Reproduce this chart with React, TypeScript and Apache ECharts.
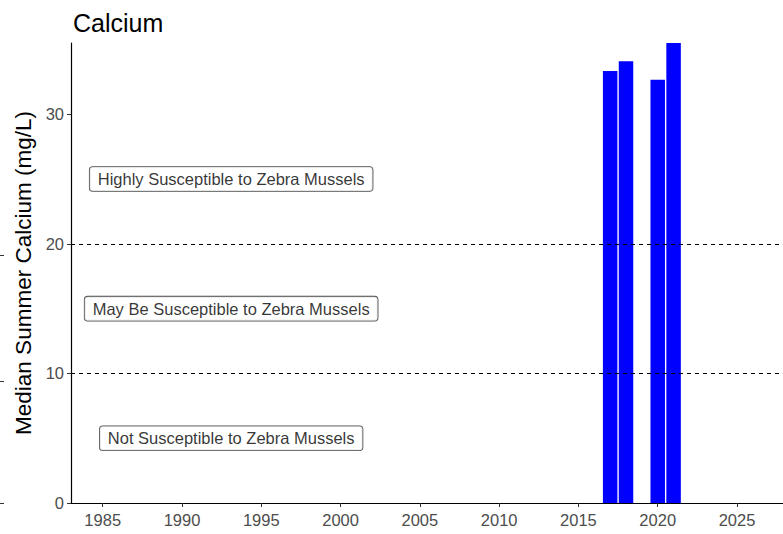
import React, { useEffect, useRef } from "react";
import * as echarts from "echarts";

const years = [2017, 2018, 2020, 2021];
const calcium = [33.34, 34.1, 32.66, 35.5];
const thresholds = [10, 20];
const xTicks = [1985, 1990, 1995, 2000, 2005, 2010, 2015, 2020, 2025];
const zoneLabels = [
  "Not Susceptible to Zebra Mussels",
  "May Be Susceptible to Zebra Mussels",
  "Highly Susceptible to Zebra Mussels",
];
const zoneY = [5, 15, 25];
const zoneX = 1993.1;

export default function App() {
  const ref = useRef<HTMLDivElement>(null);
  useEffect(() => {
    const chart = echarts.init(ref.current!, null, { renderer: "svg" });
    const font = "Liberation Sans, Arial, sans-serif";
    chart.setOption({
      animation: false,
      backgroundColor: "#ffffff",
      title: {
        text: "Calcium",
        left: 68,
        top: 5,
        textStyle: { fontFamily: font, fontSize: 25, fontWeight: "normal", color: "#000" },
      },
      grid: { left: 71, right: 0, top: 43, bottom: 31, containLabel: false },
      xAxis: {
        type: "value",
        min: 1983,
        max: 2027.9,
        axisLine: { show: true, lineStyle: { color: "#000", width: 1.2 } },
        axisTick: { show: true, length: 4, lineStyle: { color: "#333" }, customValues: xTicks },
        axisLabel: {
          fontFamily: font,
          fontSize: 16.5,
          color: "#4d4d4d",
          margin: 8,
          customValues: xTicks,
          formatter: (v: number) => String(v),
        },
        splitLine: { show: false },
      },
      yAxis: {
        type: "value",
        min: 0,
        max: 35.5,
        interval: 10,
        name: "Median Summer Calcium (mg/L)",
        nameLocation: "middle",
        nameGap: 26,
        nameTextStyle: { fontFamily: font, fontSize: 22.5, color: "#000" },
        axisLine: { show: true, lineStyle: { color: "#000", width: 1.2 } },
        axisTick: { show: true, length: 4, lineStyle: { color: "#333" } },
        axisLabel: {
          fontFamily: font,
          fontSize: 16.5,
          color: "#4d4d4d",
          margin: 7,
          showMaxLabel: false,
        },
        splitLine: { show: false },
      },
      series: [
        {
          type: "bar",
          data: years.map((y, i) => [y, calcium[i]]),
          barWidth: 14.5,
          itemStyle: { color: "#0000ff" },
          markLine: {
            silent: true,
            symbol: "none",
            label: { show: false },
            lineStyle: { color: "#000", type: [4, 4], width: 1.1 },
            data: thresholds.map((t) => ({ yAxis: t })),
          },
        },
        {
          type: "scatter",
          symbolSize: 0,
          data: zoneY.map((y, i) => ({ value: [zoneX, y], name: zoneLabels[i] })),
          label: {
            show: true,
            position: "inside",
            formatter: (p: any) => p.name,
            fontFamily: font,
            fontSize: 16.5,
            color: "#000",
            backgroundColor: "#fff",
            borderColor: "#222",
            borderWidth: 0.8,
            borderRadius: 3,
            padding: [4, 8, 3, 8],
          },
        },
      ],
      graphic: [
        { type: "line", shape: { x1: 0, y1: 255.5, x2: 4, y2: 255.5 }, style: { stroke: "#333", lineWidth: 1 } },
        { type: "line", shape: { x1: 0, y1: 381.5, x2: 4, y2: 381.5 }, style: { stroke: "#333", lineWidth: 1 } },
        { type: "line", shape: { x1: 0, y1: 503.5, x2: 4, y2: 503.5 }, style: { stroke: "#333", lineWidth: 1 } },
      ],
    });
    return () => chart.dispose();
  }, []);
  return <div ref={ref} style={{ width: 783, height: 534, position: "absolute", left: 0, top: 0 }} />;
}
